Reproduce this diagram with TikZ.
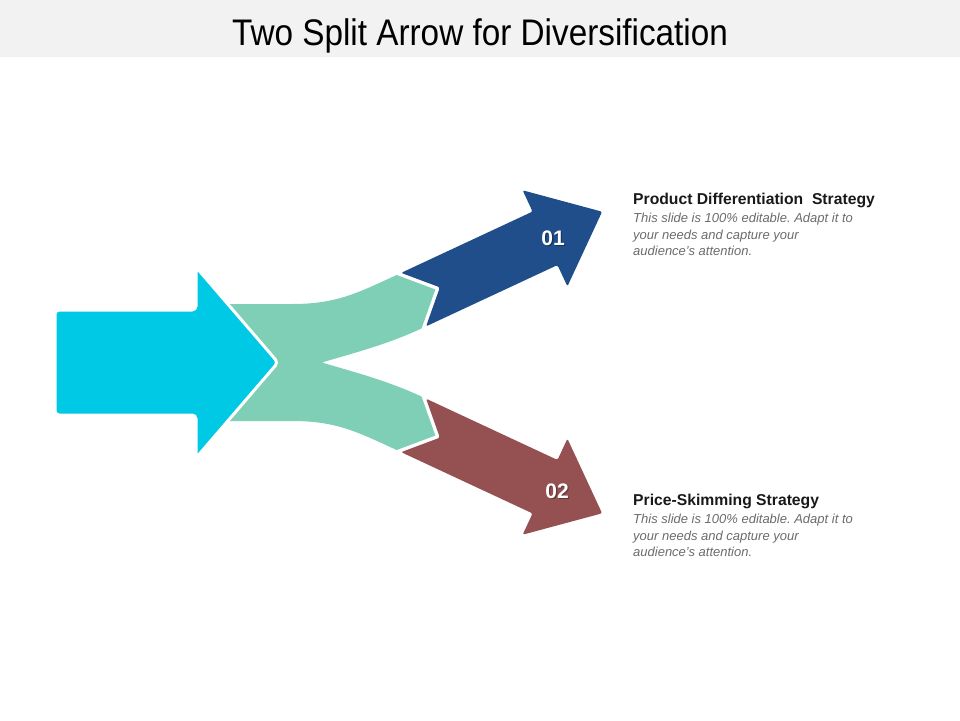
\documentclass[tikz,border=0pt]{standalone}
\usepackage{fontspec}
\setmainfont{Liberation Sans}
\newfontfamily\titlefont[FakeStretch=0.9]{Liberation Sans}
\usetikzlibrary{positioning}
\usetikzlibrary{calc}
\definecolor{headgray}{HTML}{F2F2F2}
\definecolor{inflow}{HTML}{00C9E5}
\definecolor{split}{HTML}{7ECFB6}
\definecolor{upper}{HTML}{1F4E8A}
\definecolor{lower}{HTML}{955151}
\definecolor{descgray}{HTML}{6B6B6B}
\frenchspacing
% one outgoing arrow: name, colour, tail point, angle
\newcommand{\branch}[4]{%
  \begin{scope}[shift={#3}, rotate=#4]
    \fill[#2, rounded corners=2pt] (0,-29.5) -- (145,-29.5) -- (145,-53) -- (208,0)
      -- (145,53) -- (145,29.5) -- (0,29.5) -- (29,0) -- cycle;
    \coordinate (#1-top) at (-5,-29.5);
    \coordinate (#1-tip) at (24,0);
    \coordinate (#1-bot) at (-5,29.5);
  \end{scope}}
\newcommand{\numnode}[3]{%
  \node(#1s)[num, text=black, opacity=.35] at ($#2+(1.2,1.2)$) {#3};
  \node(#1)[num] at #2 {#3}}

\begin{document}
\begin{tikzpicture}[
        x=1pt, y=-1pt,
        every node/.style={inner sep=0pt},
        title/.style={font=\titlefont\fontsize{37}{44}\selectfont},
        head/.style={font=\bfseries\fontsize{15.7}{18}\selectfont, text=black!90},
        desc/.style={font=\itshape\fontsize{13}{16.3}\selectfont, text=descgray, align=left},
        num/.style={font=\bfseries\fontsize{21}{24}\selectfont, text=white}
      ]
      \useasboundingbox (0,0) rectangle (960,720);

      \fill[headgray] (0,0) rectangle (960,57);
      \node(title)[title, anchor=base] at (480,45) {Two Split Arrow for Diversification};

      % the two outgoing arrows
      \branch{b}{upper}{(413.6,299.6)}{25};
      \branch{r}{lower}{(413.6,425.4)}{-25};

      % the split band
      \fill[split] (228,304) -- (292,304) .. controls +(0:43) and +(155:45) .. (b-top)
        -- (b-tip) -- (b-bot) .. controls +(155:40) and +(-17:30) .. (322,362.5)
        .. controls +(17:30) and +(205:40) .. (r-top) -- (r-tip) -- (r-bot)
        .. controls +(205:45) and +(0:43) .. (292,421) -- (228,421) -- cycle;

      % the incoming arrow
      \filldraw[fill=inflow, draw=white, line width=3pt, rounded corners=4pt]
        (55,310) -- (196,310) -- (196,267) -- (278,362.5) -- (196,458)
        -- (196,415) -- (55,415) -- cycle;

      \numnode{n01}{(553,238)}{01};
      \numnode{n02}{(557,491)}{02};

      \node(h1)[head, anchor=base west] at (633,204) {Product Differentiation~ Strategy};
      \node(d1)[desc, below=5.7pt of h1.south west, anchor=north west]
        {This slide is 100\% editable. Adapt it to\\your needs and capture your\\audience's attention.};
      \node(h2)[head, anchor=base west] at (633,505) {Price-Skimming Strategy};
      \node(d2)[desc, below=5.7pt of h2.south west, anchor=north west]
        {This slide is 100\% editable. Adapt it to\\your needs and capture your\\audience's attention.};
    \end{tikzpicture}
\end{document}
